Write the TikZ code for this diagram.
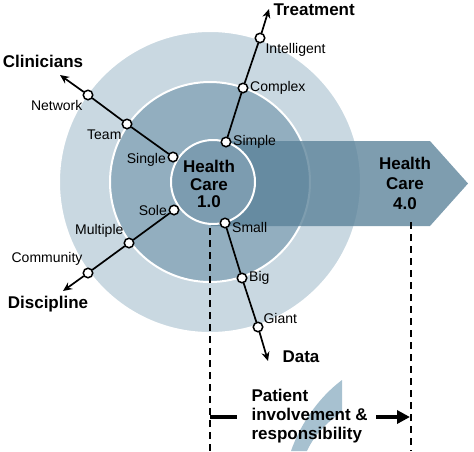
\documentclass[tikz,border=0pt]{standalone}
\usepackage{fontspec}
\setmainfont{Liberation Sans}
\usetikzlibrary{arrows.meta}
\definecolor{outerc}{HTML}{C9D8E1}
\definecolor{midc}{HTML}{92AEBF}
\definecolor{innerc}{HTML}{7C9CB0}
\definecolor{bandc}{HTML}{5A8299}
\definecolor{swoosh}{HTML}{A7C1D0}
\tikzset{
  ring/.style={draw=white, line width=2pt},
  ray/.style={draw=black, line width=1.7pt, line cap=round},
  rayend/.style={ray, -{Stealth[length=9pt,width=8pt]}},
  dot/.style={circle, draw=black, fill=white, line width=1.5pt, inner sep=0pt, minimum size=9.5pt},
  lab/.style={font=\fontsize{14}{16}\selectfont, inner sep=1.5pt},
  head/.style={font=\bfseries\fontsize{17}{18}\selectfont},
  guide/.style={draw=black, line width=1.4pt, dash pattern=on 7pt off 5pt},
  bar/.style={draw=black, line width=4pt},
}
\begin{document}
\begin{tikzpicture}[x=1pt,y=-1pt]
  \useasboundingbox (0,0) rectangle (474,451);
  \coordinate (O) at (210,182);
  \coordinate (I) at (213,182);

  \filldraw[fill=outerc, ring] (O) circle (151);
  \filldraw[fill=midc, ring] (O) circle (100);
  \fill[bandc, opacity=0.78] (211,141) -- (430,141) -- (468,183.5) -- (430,226) -- (211,226) -- cycle;
  \filldraw[fill=innerc, ring] (I) circle (42);

  \coordinate (g1a) at (210,228);
  \coordinate (g1b) at (210,451);
  \coordinate (g2a) at (411,222);
  \coordinate (g2b) at (411,451);
  \draw[guide] (g1a) -- (g1b);
  \draw[guide] (g2a) -- (g2b);

  \fill[swoosh] (291,451) .. controls (300,425) and (318,398) .. (342,380)
    -- (342,412) .. controls (330,420) and (315,433) .. (307,451) -- cycle;

  % treatment
  \node[dot,label={[lab]right:Simple}] (t1) at (226,142) {};
  \node[dot,label={[lab]right:Complex}] (t2) at (243,88) {};
  \node[dot,label={[lab]below right:Intelligent}] (t3) at (260,38) {};
  \coordinate (ttip) at (269,9);
  % clinicians
  \node[dot,label={[lab,yshift=-3pt]left:Single}] (c1) at (173,157) {};
  \node[dot,label={[lab]below left:Team}] (c2) at (127,124) {};
  \node[dot,label={[lab]below left:Network}] (c3) at (88,95) {};
  \coordinate (ctip) at (60,75);
  % discipline
  \node[dot,label={[lab]left:Sole}] (d1) at (174,210) {};
  \node[dot,label={[lab]above left:Multiple}] (d2) at (129,243) {};
  \node[dot,label={[lab,yshift=2pt]above left:Community}] (d3) at (88,273) {};
  \coordinate (dtip) at (63,291);
  % data
  \node[dot,label={[lab,yshift=-4pt]right:Small}] (a1) at (225,223) {};
  \node[dot,label={[lab]right:Big}] (a2) at (242,278) {};
  \node[dot,label={[lab,yshift=-2pt]above right:Giant}] (a3) at (258,327) {};
  \coordinate (atip) at (268,361);

  \draw[ray] (t1) -- (t2) -- (t3);
  \draw[rayend] (t3) -- (ttip);
  \draw[ray] (c1) -- (c2) -- (c3);
  \draw[rayend] (c3) -- (ctip);
  \draw[ray] (d1) -- (d2) -- (d3);
  \draw[rayend] (d3) -- (dtip);
  \draw[ray] (a1) -- (a2) -- (a3);
  \draw[rayend] (a3) -- (atip);

  \node[head, anchor=west] (trt) at (270,10) {Treatment};
  \node[head] (cli) at (43,61) {Clinicians};
  \node[head] (dis) at (48,304) {Discipline};
  \node[head, anchor=west] (dat) at (279,357) {Data};

  \node[head, align=center, font=\bfseries\fontsize{17}{17.5}\selectfont] (hc1) at (209,184) {Health\\Care\\1.0};
  \node[head, align=center, font=\bfseries\fontsize{17}{20}\selectfont] (hc4) at (405,183) {Health\\Care\\4.0};

  \node[head, align=left, anchor=west, font=\bfseries\fontsize{17}{19}\selectfont] (pat) at (248,416) {Patient\\involvement \&\\responsibility};
  \coordinate (p1) at (210,417);
  \coordinate (p2) at (237,417);
  \coordinate (p3) at (376,417);
  \coordinate (p4) at (410,417);
  \draw[bar] (p1) -- (p2);
  \draw[bar, -{Triangle[length=13pt,width=13pt]}] (p3) -- (p4);
\end{tikzpicture}
\end{document}
